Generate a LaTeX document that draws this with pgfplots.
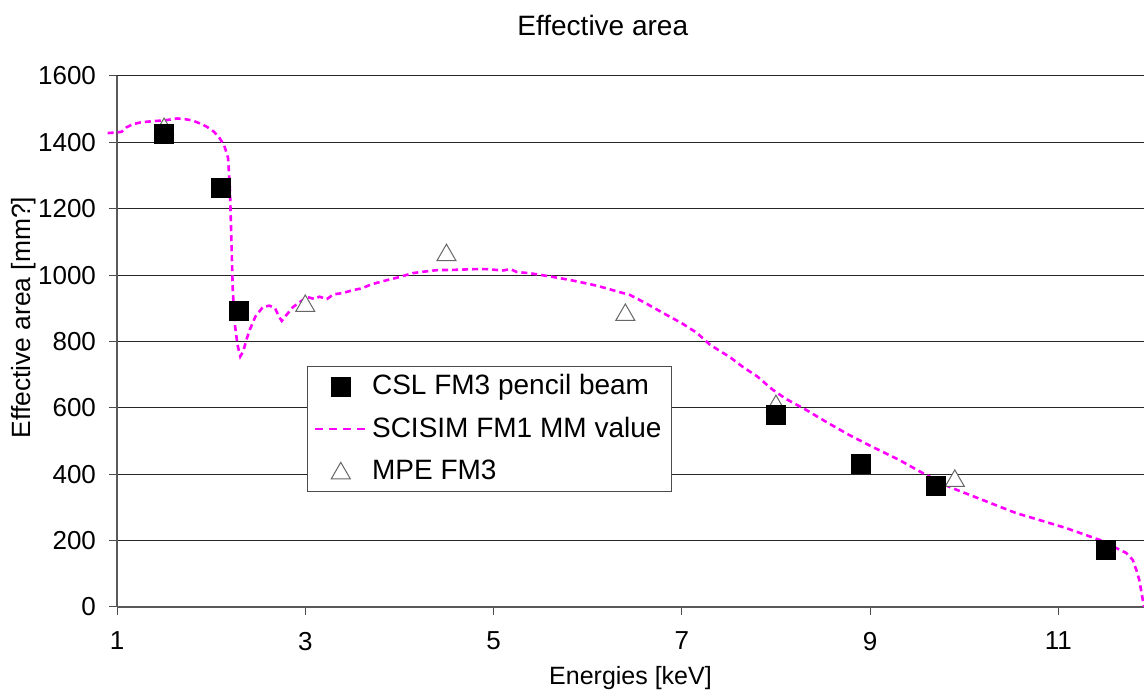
\documentclass[border=0pt]{standalone}
\usepackage{fontspec}
\setmainfont{Liberation Sans}
\usepackage{pgfplots}
\pgfplotsset{compat=1.18}
\usetikzlibrary{calc}
\definecolor{scimag}{HTML}{FF00FF}

\pgfplotstableread{
x y
0.90 1428
1.00 1430
1.05 1432
1.10 1445
1.17 1455
1.25 1460
1.38 1464
1.50 1466
1.64 1472
1.72 1470
1.80 1466
1.90 1455
1.96 1446
2.03 1432
2.09 1413
2.14 1390
2.18 1353
2.20 1256
2.21 1157
2.23 955
2.25 856
2.28 790
2.31 755
2.34 770
2.38 810
2.41 835
2.47 875
2.55 904
2.62 908
2.68 900
2.72 875
2.75 862
2.80 880
2.87 904
2.95 920
3.02 934
3.10 928
3.15 935
3.23 928
3.30 942
3.40 946
3.51 955
3.60 960
3.70 972
3.87 985
4.00 994
4.14 1006
4.25 1010
4.40 1015
4.60 1016
4.80 1018
4.93 1018
5.10 1014
5.18 1018
5.25 1009
5.38 1006
5.60 996
5.80 986
5.92 979
6.10 968
6.30 952
6.45 940
6.60 918
6.80 886
7.00 855
7.16 826
7.30 790
7.51 753
7.65 723
7.80 695
7.96 656
8.10 628
8.32 594
8.55 555
8.78 518
9.00 486
9.31 443
9.55 405
9.84 362
10.20 322
10.55 283
10.80 262
11.08 238
11.44 202
11.60 180
11.72 163
11.79 142
11.83 110
11.86 81
11.91 0
}\scisim

\begin{document}
\fontsize{13}{15}\selectfont
\begin{tikzpicture}
\begin{axis}[
    name=ax,
    scale only axis,
    width=513.5pt, height=265.5pt,
    xmin=1, xmax=11.91, ymin=0, ymax=1600,
    xtick={1,3,5,7,9,11},
    ytick={0,200,...,1600},
    axis lines*=left,
    axis line style={black!65, line width=0.6pt},
    tick align=outside,
    major tick length=4pt,
    tick style={black!70, line width=0.5pt},
    ymajorgrids,
    major grid style={black!85, line width=0.5pt},
    clip=false,
    /pgf/number format/assume math mode=true,
    /pgf/number format/1000 sep={},
    xticklabel shift=4pt,
    yticklabel shift=2pt,
    title={Effective area},
    title style={at={(axis description cs:0.473,1.073)}, anchor=center,
        yshift=0pt, font=\fontsize{14}{16}\selectfont},
    xlabel={Energies [keV]},
    xlabel style={at={(axis description cs:0.5,-0.133)}, anchor=center,
        yshift=0pt, font=\fontsize{12.5}{15}\selectfont},
    ylabel={Effective area [mm?]},
    ylabel style={at={(axis description cs:-0.0906,0.545)}, anchor=center,
        font=\fontsize{13.2}{15}\selectfont},
    legend cell align=left,
    legend style={at={(axis description cs:0.185,0.454)}, anchor=north west,
        draw=black!70, line width=0.5pt, fill=white,
        inner xsep=3pt, inner ysep=2pt, row sep=5.2pt,
        font=\fontsize{14}{16}\selectfont},
]
% legend entries
\addlegendimage{legend image code/.code={\draw[black, fill=black] plot[mark=square*, mark size=4.75pt] coordinates {(13pt,0pt)};}}
\addlegendentry{CSL FM3 pencil beam}
\addlegendimage{legend image code/.code={\draw[scimag, line width=1.3pt, dash pattern=on 4pt off 3pt] (0pt,0pt) -- (26pt,0pt);}}
\addlegendentry{SCISIM FM1 MM value}
\addlegendimage{legend image code/.code={\draw[black!60, fill=white, line width=0.5pt] plot[mark=triangle*, mark size=5.5pt] coordinates {(13pt,-1pt)};}}
\addlegendentry{MPE FM3}

% SCISIM curve
\addplot[forget plot, scimag, line width=1.3pt, dash pattern=on 3pt off 2pt] table {\scisim};

% MPE FM3
\addplot[forget plot, only marks, mark=triangle*, mark size=5.5pt,
    mark options={draw=black!60, fill=white, line width=0.5pt}] coordinates {
    (1.5,1440) (3.0,907) (4.5,1060) (6.4,880) (8.0,605) (9.9,380)
};

% CSL FM3 pencil beam
\addplot[forget plot, only marks, mark=square*, mark size=4.75pt,
    mark options={draw=black, fill=black}] coordinates {
    (1.5,1425) (2.1,1262) (2.3,892) (8.0,578) (8.9,431) (9.7,365) (11.5,172)
};
\end{axis}
\pgfresetboundingbox
\path ($(ax.south west)+(-58.5pt,-43pt)$) rectangle ($(ax.north east)+(0pt,38pt)$);
\end{tikzpicture}
\end{document}
